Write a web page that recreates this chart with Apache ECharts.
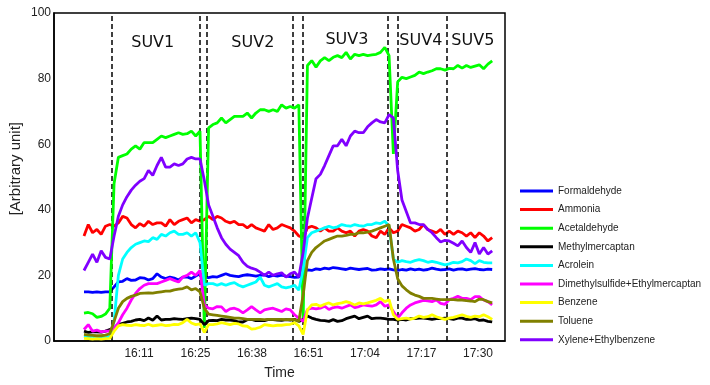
<!DOCTYPE html>
<html>
<head>
<meta charset="utf-8">
<script src="https://cdn.jsdelivr.net/npm/echarts@6/dist/echarts.min.js"></script>
<style>html,body{margin:0;padding:0;background:#fff}#c{width:710px;height:385px}</style>
</head>
<body>
<div id="c"></div>
<script>
// sample times: minutes after 16:00, one sample per minute
var xStart = -1.4, xStep = 1;
var tickMinutes = [11.4, 24.55, 37.7, 50.85, 64.0, 77.15, 90.3];
var tickLabels = ['16:11','16:25','16:38','16:51','17:04','17:17','17:30'];
var dividers = [5.12, 25.6, 27.2, 47.24, 49.57, 69.35, 71.67, 83.08];
var suvNames = ['SUV1','SUV2','SUV3','SUV4','SUV5'];
var suvX = [14.6, 37.9, 59.8, 77.0, 89.1];
var suvY = [91.0, 91.0, 91.9, 91.4, 91.4];

var seriesNames = ['Formaldehyde','Ammonia','Acetaldehyde','Methylmercaptan','Acrolein','Dimethylsulfide+Ethylmercaptan','Benzene','Toluene','Xylene+Ethylbenzene'];
var seriesColors = ['#0000ff','#ff0000','#00ff00','#000000','#00ffff','#ff00ff','#ffff00','#808000','#8000ff'];

var formaldehyde = [15,15,14.8,15,14.8,15,15,16.5,18,18.2,19,18.5,18.6,19.3,19.2,18.6,19,20.5,19.5,19,19.5,19.2,18.6,19.5,19.5,19,19.8,20.5,19.5,19.3,19.6,19.5,20,20.5,20,19.8,19.6,20,20.2,20,19.8,20,20.2,19.6,20,19.8,20.1,19.8,19.6,19.4,19.5,21.5,21.7,21.5,22,21.8,22.2,22,22.4,22.2,22,21.8,22.2,22,21.8,22,22.1,21.6,21.7,22,21.8,22,21.7,21.5,21.8,21.6,22,21.7,21.9,21.6,21.8,22.2,21.9,21.7,21.8,22,21.6,21.9,22,21.7,21.9,22.1,21.8,21.7,21.9,21.8];
var ammonia = [32,35.5,33,34,32.5,35,35.5,35,36,38,37.5,35.5,34.5,35.8,35,36.5,35.5,36,36,35,37,35.5,36.5,37,37.5,36,37,36.5,37,38,37,38,37.5,36.5,36,36.5,35.5,35.5,34.5,35.5,34.5,34,33.5,35.5,34,34.5,35.5,35,34.5,33.5,32,31.5,34.5,35,34.5,33.5,34.5,33.5,33.5,34.5,33.5,33,33.5,32,33.5,34,33.5,32,31.5,33.5,32.5,34.5,33,33.5,35.5,35,34.5,33.5,34,35.5,34,33.5,33,34,32.5,33.5,32.5,33.5,33,32,33,31.5,33,32,30.5,31.5];
var acetaldehyde = [8.5,8.7,8.3,7.2,7.5,8.2,10,48,56,56.5,57,58.5,59.5,58.5,60.5,60.5,60.5,61.5,62.5,62,62.5,63,63.5,63,63.2,64,62.5,64,4,65,66,66.5,68,66.5,67.5,68.5,68.5,68.5,69.5,68,69.5,70.5,70.5,70,70.5,70,72,71,71.5,71,72,6,84,85.5,83.5,85.4,86.4,85.5,86.5,87,86.4,88,86,87.4,87,87.4,87,87.2,87.4,88,89.5,87,57,79,80.4,80,80.5,81,82,81.5,82,82.4,83,83,82.6,83.1,83,84,83.2,84,83.4,83.8,84.2,83,84.4,85.4];
var methylmercaptan = [3,2.6,2.8,2.8,2.7,3,3.5,4,5,5.4,5.8,6,6.4,6.6,6.2,7,6.3,7.6,6.4,6.6,6.6,6.8,6.7,6.6,6.8,7,6.8,6.6,5,6.2,6.3,6.2,6.6,6.4,6.4,6.2,5.8,5.8,6.5,6.6,6.2,6.3,6.2,6.6,6.5,6.4,6.3,6.5,6.4,6.6,6,6.5,7.6,7,6.6,6.3,6.2,6,6.5,6,6.2,6.8,7.2,7.6,6.8,7.2,7.6,6.8,7,7,6.8,6.6,6.6,6.4,6.6,6.4,6.8,6.8,7,7,6.8,6.6,6.8,6.8,7,6.8,6.6,7,7,6.6,6.6,6.8,6.3,6.4,6,5.8];
var acrolein = [1.5,1.2,1.5,1,1.2,1,1.3,6,20,25,27,28.5,29.5,30,30.5,30.3,31.5,31,32.5,32,33,33.5,32.5,32.5,33,32,33,30,17,17.5,17.5,17,17.5,17,17.5,17.8,17,16.5,17,17.5,18,19.5,17,16.5,17,17.5,16.5,16.2,16.5,17,15.5,22,31.5,33,33.5,34,34.5,35,34.5,34.8,35.5,35.2,35,35.5,35.2,35,35.5,35.5,36,35.8,36.5,35,25,24,24.5,24.2,24,24.5,24.8,24.5,24,24.3,24,23.6,23.2,23.5,24,23.8,24.2,25,24.5,23.6,24.5,24,23.8,23.8];
var dimethylsulfide = [3.5,5,3,3.3,2.8,3,3,4,5.5,8,10,12.5,14.5,16,17,17.5,17.5,17.5,18,18.5,19,18.5,18,19.5,20,21,20,21.5,11,10,9.8,10.5,10.4,9,9.8,10,9.5,8.6,9.5,10.5,9.5,8.6,9.5,9.8,10,9.5,9,9.8,9.5,8,7,6,9.6,10,9.8,10,10.6,9.6,10.2,10.4,10,10.5,11,10.2,10.5,11,10.8,10.6,11,12,10.6,11,9,7,8.6,10,11,11.6,12,12.4,12.2,12,12.5,11.5,11.2,12.6,13,13.6,13,13,12.6,13.5,13.5,12.5,12,11];
var benzene = [0.8,0.7,0.6,0.7,0.6,0.7,0.8,3,4.6,5,4.8,4.7,5,4.8,4.7,5.1,4.6,4.8,5,4.7,4.8,5.1,5,5.6,6.6,5.5,5,5.2,2.6,5,5,5.2,5.6,5.3,5,5.4,5.2,4.6,4.5,3.6,3.8,4.2,5,4.8,4.6,4.8,4.8,5,5.1,5.6,4.6,2,9.5,11,11.2,10.6,11.2,11.6,11,11.4,11.6,12,11.6,11,11.6,11.3,11.6,12,12.4,13,12,12.6,8,6.6,6.8,7,6.7,7,7.6,7.2,7.4,8,7.4,7,6.6,7,7.2,7.6,8,7.5,7.2,7.6,7.4,8,7.4,6.6];
var toluene = [2,1.8,1.7,1.6,1.6,1.8,2.2,6,10,12,13,13.6,14,14.5,14.6,14.7,14.6,14.8,15,15.2,15.2,15.6,15.8,16,16.5,15.6,16,15,10,8.2,8,7.8,7.6,7.4,7.2,7,7,6.8,6.6,6.6,6.6,6.6,6.5,6.6,6.6,6.6,6.6,6.5,6.6,6.5,6,14,24.5,27,28.5,29.5,30.5,31,31.5,32,32,32.2,32.5,32.5,33,33,33.2,33.5,34,34.5,35,35.5,25,19,16.8,15.6,14.6,14,13.6,13,13,13,12.8,12.6,12.6,12.6,12.6,12.5,12.5,12.3,12.2,12,12.8,12.6,12,11.6];
var xylene = [21.5,24,26.5,24,27.5,25.5,25,32,38,41.5,44,46,47.5,48.7,49.5,52,50.5,53.5,56,53,53,54,53.5,54,55.5,56,55.5,55.5,49,41.5,38,34.5,31.5,29.5,28,27,26,24,22.8,22.2,21.8,21,20,21,20,20.5,20.8,19.5,20.5,21,19.5,27,37.5,43.5,49.5,50.8,53.5,56.5,59.5,59.5,61.5,59.5,62.5,64,63.5,63.5,65.3,66.5,67.5,66.8,66.5,69,68,52,43,39.5,36,36,35.5,35.5,34,33,31.5,30.2,30.7,30.5,29.8,29,30.5,28.5,27,30,26.5,28.5,26.5,27.5];

var allValues = [formaldehyde, ammonia, acetaldehyde, methylmercaptan, acrolein, dimethylsulfide, benzene, toluene, xylene];

function pairs(arr) {
  return arr.map(function (v, i) { return [xStart + i * xStep, v]; });
}

var series = allValues.map(function (vals, k) {
  return {
    name: seriesNames[k],
    type: 'line',
    data: pairs(vals),
    showSymbol: false,
    symbol: 'none',
    lineStyle: { color: seriesColors[k], width: 2.8 },
    itemStyle: { color: seriesColors[k] },
    z: 3 + k,
    animation: false
  };
});

// divider lines and SUV labels attached to an empty helper series
series.push({
  name: '_helper',
  type: 'line',
  data: [],
  silent: true,
  markLine: {
    silent: true,
    symbol: ['none', 'none'],
    label: { show: false },
    lineStyle: { color: '#000', type: [5, 3], width: 1.5 },
    data: dividers.map(function (x) { return { xAxis: x }; }),
    animation: false
  },
  markPoint: {
    silent: true,
    symbol: 'rect',
    symbolSize: 1,
    itemStyle: { color: 'rgba(0,0,0,0)' },
    label: { show: true, position: 'inside', formatter: '{b}', fontSize: 16, fontFamily: 'DejaVu Sans', color: '#111' },
    data: suvNames.map(function (n, k) { return { name: n, coord: [suvX[k], suvY[k]] }; }),
    animation: false
  },
  z: 2
});

var chart = echarts.init(document.getElementById('c'), null, { renderer: 'canvas' });
chart.setOption({
  animation: false,
  backgroundColor: '#fff',
  grid: { left: 54, right: 205, top: 13, bottom: 38, show: true, borderColor: '#000', borderWidth: 1.5, backgroundColor: '#fff' },
  xAxis: {
    type: 'value',
    min: -8.38,
    max: 96.58,
    axisLine: { show: true, onZero: false, lineStyle: { color: '#000', width: 1.5 } },
    axisTick: { show: false },
    splitLine: { show: false },
    axisLabel: {
      customValues: tickMinutes,
      formatter: function (v) {
        for (var i = 0; i < tickMinutes.length; i++) if (Math.abs(tickMinutes[i] - v) < 1e-6) return tickLabels[i];
        return '';
      },
      fontSize: 12, fontFamily: 'Liberation Sans', color: '#222', margin: 7
    },
    name: 'Time',
    nameLocation: 'middle',
    nameGap: 25,
    nameTextStyle: { fontSize: 14, fontFamily: 'Liberation Sans', color: '#222' }
  },
  yAxis: {
    type: 'value',
    min: 0, max: 100, interval: 20,
    axisLine: { show: true, onZero: false, lineStyle: { color: '#000', width: 1.5 } },
    axisTick: { show: false },
    splitLine: { show: false },
    axisLabel: { fontSize: 12, fontFamily: 'Liberation Sans', color: '#222', margin: 3 }
  },
  legend: {
    orient: 'vertical',
    left: 515,
    top: 180,
    icon: 'rect',
    itemWidth: 33,
    itemHeight: 3,
    itemGap: 6.6,
    data: seriesNames,
    textStyle: { fontSize: 10, fontFamily: 'Liberation Sans', color: '#222', lineHeight: 12 }
  },
  graphic: [{
    type: 'text',
    left: 8,
    top: 122,
    rotation: Math.PI / 2,
    style: { text: '[Arbitrary unit]', font: '15px "Liberation Sans"', fill: '#222' }
  }],
  series: series
});
</script>
</body>
</html>
